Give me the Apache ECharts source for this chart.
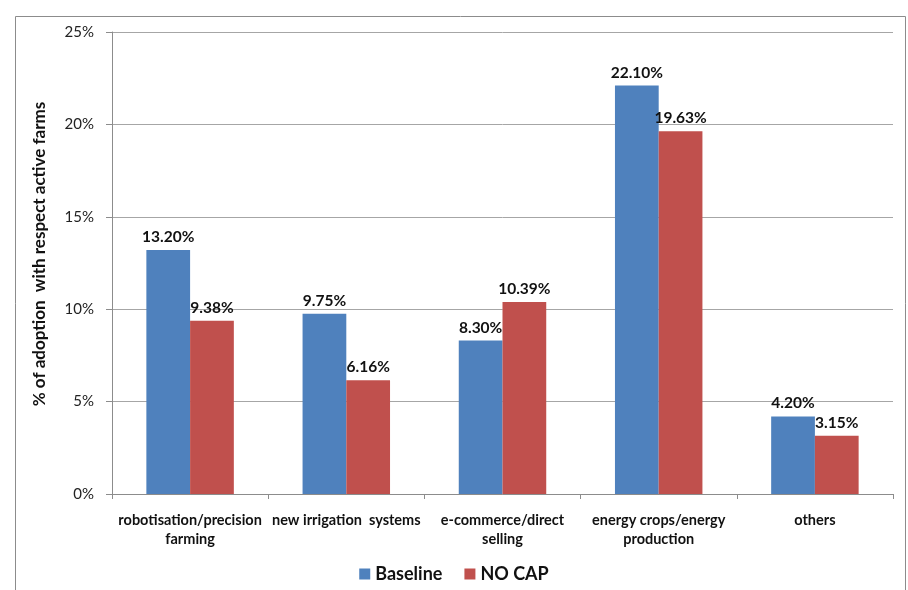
<!DOCTYPE html>
<html>
<head>
<meta charset="utf-8">
<script src="https://cdn.jsdelivr.net/npm/echarts@6/dist/echarts.min.js"></script>
<style>
  html, body { margin: 0; padding: 0; background: #fff; }
  #chart { width: 908px; height: 590px; }
</style>
</head>
<body>
<div id="chart"></div>
<script>
// Adoption share of innovations (percent of active farms)
const categories = [
  'robotisation/precision\nfarming',
  'new irrigation  systems',
  'e-commerce/direct\nselling',
  'energy crops/energy\nproduction',
  'others'
];
const baselineValues = [13.20, 9.75, 8.30, 22.10, 4.20];
const noCapValues = [9.38, 6.16, 10.39, 19.63, 3.15];
const seriesNames = ['Baseline', 'NO CAP'];
const yAxisTitle = '% of adoption  with respect active farms';

const FONT = 'Lato, "Open Sans", sans-serif';

const chart = echarts.init(document.getElementById('chart'));

const labelStyle = {
  show: true,
  position: 'top',
  distance: 5,
  fontFamily: FONT,
  fontWeight: 'bold',
  fontSize: 15.5,
  color: '#111',
  formatter: p => p.value.toFixed(2) + '%'
};

chart.setOption({
  animation: false,
  textStyle: { fontFamily: FONT },
  graphic: [{
    type: 'rect',
    left: 13, top: 14,
    shape: { width: 890, height: 600 },
    style: { fill: 'none', stroke: '#8c8c8c', lineWidth: 1 },
    silent: true
  }],
  grid: { left: 112, right: 15, top: 32, bottom: 96 },
  legend: {
    bottom: 2,
    left: 'center',
    itemWidth: 11,
    itemHeight: 11,
    itemGap: 22,
    icon: 'rect',
    textStyle: { fontFamily: FONT, fontWeight: 'bold', fontSize: 18, color: '#111' },
    data: seriesNames
  },
  xAxis: {
    type: 'category',
    data: categories,
    axisLine: { lineStyle: { color: '#8c8c8c' } },
    axisTick: { show: true, length: 5, lineStyle: { color: '#8c8c8c' } },
    axisLabel: {
      interval: 0,
      margin: 17,
      fontFamily: FONT,
      fontWeight: 'bold',
      fontSize: 14.5,
      lineHeight: 19,
      color: '#111'
    }
  },
  yAxis: {
    type: 'value',
    min: 0,
    max: 25,
    interval: 5,
    name: yAxisTitle,
    nameLocation: 'middle',
    nameGap: 64,
    nameTextStyle: {
      fontFamily: FONT, fontWeight: 'bold', fontSize: 17, color: '#111',
      padding: [0, 0, 0, 18]
    },
    axisLine: { show: true, lineStyle: { color: '#8c8c8c' } },
    axisTick: { show: true, length: 6, lineStyle: { color: '#8c8c8c' } },
    axisLabel: {
      formatter: '{value}%',
      margin: 18,
      fontFamily: FONT,
      fontSize: 15,
      color: '#222'
    },
    splitLine: { lineStyle: { color: '#a6a6a6' } }
  },
  series: [
    {
      name: seriesNames[0],
      type: 'bar',
      data: baselineValues,
      barGap: '0%',
      barCategoryGap: '44%',
      itemStyle: { color: '#4f81bd' },
      label: labelStyle
    },
    {
      name: seriesNames[1],
      type: 'bar',
      data: noCapValues,
      itemStyle: { color: '#c0504d' },
      label: labelStyle
    }
  ]
});
</script>
</body>
</html>
